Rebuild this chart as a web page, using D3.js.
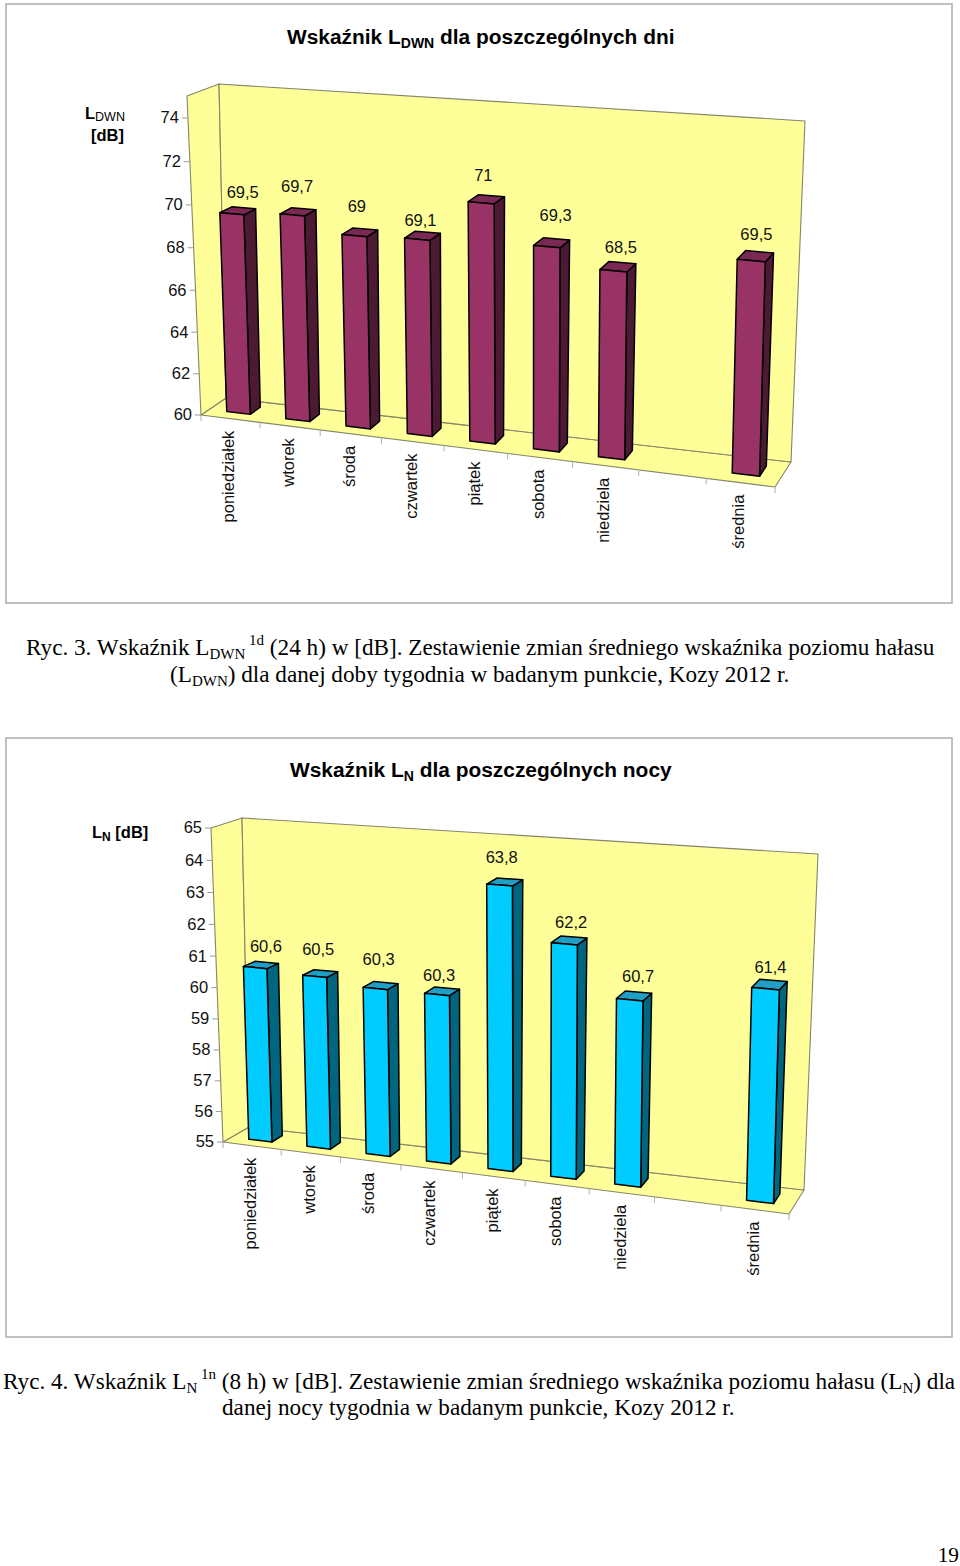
<!DOCTYPE html>
<html><head><meta charset="utf-8">
<script src="https://cdn.jsdelivr.net/npm/d3@7"></script>
<style>html,body{margin:0;padding:0;background:#fff}svg{display:block}</style>
</head><body><svg id="c" width="960" height="1566"></svg>
<script>
// ---- data ----
const categories = ["poniedziałek","wtorek","środa","czwartek","piątek","sobota","niedziela","","średnia"];
const dayValues   = [69.5,69.7,69,69.1,71,69.3,68.5,null,69.5];
const nightValues = [60.6,60.5,60.3,60.3,63.8,62.2,60.7,null,61.4];
const dayTicks   = [60,62,64,66,68,70,72,74];
const nightTicks = [55,56,57,58,59,60,61,62,63,64,65];
const dayDomain = [60,75];
const nightDomain = [55,65];

// ---- layout (frame of each 3-D box, label nudges) ----
const dayBox = {
  front:[[201,415],[775,487],[783,141],[187,96]],
  back: [[226,398],[791,462],[805,121],[219,84]]
};
const nightBox = {
  front:[[223,1142],[789,1214],[797,873],[211,828]],
  back: [[249,1127],[804,1190],[818,854],[242,818]]
};
const dayNudge = [[5,-19],[-1,-26],[-3,-26],[-2,-16],[-3,-24],[4,-28],[3,-20],[0,0],[1,-22]];
const nightNudge = [[5,-19],[-2,-25],[-2,-26],[-3,-16],[-3,-25],[2,-18],[4,-20],[0,0],[1,-17]];

const svg = d3.select("#c");
const SANS = "'Liberation Sans',Arial,sans-serif", SERIF = "'Liberation Serif','Times New Roman',serif";

function quad(q){
  const [[x0,y0],[x1,y1],[x2,y2],[x3,y3]] = q;
  const dx1=x1-x2,dx2=x3-x2,dy1=y1-y2,dy2=y3-y2,sx=x0-x1+x2-x3,sy=y0-y1+y2-y3;
  const det=dx1*dy2-dx2*dy1;
  const g=(sx*dy2-dx2*sy)/det,h=(dx1*sy-sx*dy1)/det;
  const a=x1-x0+g*x1,b=x3-x0+h*x3,c=x0,d=y1-y0+g*y1,e=y3-y0+h*y3,f=y0;
  return (u,v)=>{const n=g*u+h*v+1;return [(a*u+b*v+c)/n,(d*u+e*v+f)/n];};
}
function rich(parent,x,y,anchor,size,weight,family,parts,fill){
  const t=parent.append("text").attr("x",x).attr("y",y).attr("text-anchor",anchor)
    .attr("font-size",size).attr("font-weight",weight).attr("font-family",family).attr("fill",fill||"#000");
  let cur=0;
  parts.forEach(p=>{
    const off=p.off||0;
    const s=t.append("tspan").text(p.t).attr("dy",off-cur);
    if(p.size) s.attr("font-size",p.size);
    if(p.weight) s.attr("font-weight",p.weight);
    cur=off;
  });
  return t;
}
function drawChart(o){
  const g=svg.append("g");
  g.append("rect").attr("x",o.rect[0]).attr("y",o.rect[1]).attr("width",o.rect[2]).attr("height",o.rect[3])
    .attr("fill","#fff").attr("stroke","#a6a6a6").attr("stroke-width",1.4);
  const U=d3.scaleBand().domain(d3.range(categories.length)).range([0,1]);
  const V=d3.scaleLinear().domain(o.domain).range([0,1]);
  const F=quad(o.box.front),B=quad(o.box.back);
  const P=(u,v,w)=>{const a=F(u,v),b=B(u,v);return [a[0]+(b[0]-a[0])*w,a[1]+(b[1]-a[1])*w];};
  const poly=(pts,fill,stroke,sw)=>g.append("polygon").attr("points",pts.map(p=>p.join(",")).join(" "))
      .attr("fill",fill).attr("stroke",stroke).attr("stroke-width",sw).attr("stroke-linejoin","round");
  const WALL="#ffff99",EDGE="#85856a";
  poly([P(0,0,0),P(1,0,0),P(1,0,1),P(0,0,1)],WALL,EDGE,1.1);
  poly([P(0,0,0),P(0,1,0),P(0,1,1),P(0,0,1)],WALL,EDGE,1.1);
  poly([P(0,0,1),P(1,0,1),P(1,1,1),P(0,1,1)],WALL,EDGE,1.1);
  o.ticks.forEach(t=>{
    const p=P(0,V(t),0);
    g.append("line").attr("x1",p[0]-6).attr("x2",p[0]).attr("y1",p[1]).attr("y2",p[1]).attr("stroke","#9a9a9a").attr("stroke-width",1);
    g.append("text").attr("x",p[0]-9).attr("y",p[1]-0.5).attr("dy","0.36em").attr("text-anchor","end")
      .attr("font-family",SANS).attr("font-size",16.5).attr("fill","#111").text(t);
  });
  d3.range(categories.length+1).forEach(i=>{
    const p=P(i/categories.length,0,0);
    g.append("line").attr("x1",p[0]).attr("x2",p[0]).attr("y1",p[1]).attr("y2",p[1]+6).attr("stroke","#b0b0b0").attr("stroke-width",1);
  });
  const bw=U.bandwidth();
  o.values.forEach((val,i)=>{
    if(val==null) return;
    const u0=U(i)+bw*.3,u1=U(i)+bw*.7,w0=o.w[0],w1=o.w[1],v=V(val),S=1.5;
    poly([P(u1,0,w0),P(u1,0,w1),P(u1,v,w1),P(u1,v,w0)],o.colors[1],"#000",S);
    poly([P(u0,v,w0),P(u1,v,w0),P(u1,v,w1),P(u0,v,w1)],o.colors[2],"#000",S);
    poly([P(u0,0,w0),P(u1,0,w0),P(u1,v,w0),P(u0,v,w0)],o.colors[0],"#000",S);
    const top=P(U(i)+bw/2,v,(w0+w1)/2), n=o.nudge[i];
    g.append("text").attr("x",top[0]+n[0]).attr("y",top[1]+n[1]).attr("dy","0.36em").attr("text-anchor","middle")
      .attr("font-family",SANS).attr("font-size",16.5).attr("fill","#111").text(String(val).replace(".",","));
  });
  categories.forEach((c,i)=>{
    if(!c) return;
    const p=P(U(i)+bw/2,0,0);
    g.append("text").attr("transform",`translate(${p[0]-2},${p[1]+12}) rotate(-90)`).attr("dy","0.36em")
      .attr("text-anchor","end").attr("font-family",SANS).attr("font-size",16.5).attr("fill","#111").text(c);
  });
}
drawChart({rect:[6,4,946,599],box:dayBox,domain:dayDomain,ticks:dayTicks,values:dayValues,nudge:dayNudge,w:[.33,.74],
  colors:["#993366","#4d1a33","#7a2952"]});
drawChart({rect:[6,738,946,599],box:nightBox,domain:nightDomain,ticks:nightTicks,values:nightValues,nudge:nightNudge,w:[.33,.74],
  colors:["#00ccff","#006680","#1f9fc6"]});

rich(svg,287,44,"start",20.9,"bold",SANS,[{t:"Wskaźnik L"},{t:"DWN",size:14,off:4},{t:" dla poszczególnych dni"}]);
rich(svg,290,777,"start",20.9,"bold",SANS,[{t:"Wskaźnik L"},{t:"N",size:14,off:4},{t:" dla poszczególnych nocy"}]);
rich(svg,85,119,"start",16.5,"bold",SANS,[{t:"L"},{t:"DWN",size:12.5,off:2,weight:"normal"}]);
rich(svg,124,141,"end",16.5,"bold",SANS,[{t:"[dB]"}]);
rich(svg,92,838,"start",16.5,"bold",SANS,[{t:"L"},{t:"N",size:12,off:3},{t:" [dB]",off:0}]);
const cap=(x,y,parts)=>rich(svg,x,y,"start",23.2,"normal",SERIF,parts);
cap(26,655,[{t:"Ryc. 3. Wskaźnik L"},{t:"DWN",size:15,off:3.5},{t:" 1d",size:15,off:-10},{t:" (24 h) w [dB]. Zestawienie zmian średniego wskaźnika poziomu hałasu"}]);
cap(170,682,[{t:"(L"},{t:"DWN",size:15,off:3.5},{t:") dla danej doby tygodnia w badanym punkcie, Kozy 2012 r."}]);
cap(3,1389,[{t:"Ryc. 4. Wskaźnik L"},{t:"N",size:15,off:3.5},{t:" 1n",size:15,off:-10},{t:" (8 h) w [dB]. Zestawienie zmian średniego wskaźnika poziomu hałasu (L"},{t:"N",size:15,off:3.5},{t:") dla"}]);
cap(222,1415,[{t:"danej nocy tygodnia w badanym punkcie, Kozy 2012 r."}]);
rich(svg,959,1562,"end",21.3,"normal",SERIF,[{t:"19"}]);
</script></body></html>
